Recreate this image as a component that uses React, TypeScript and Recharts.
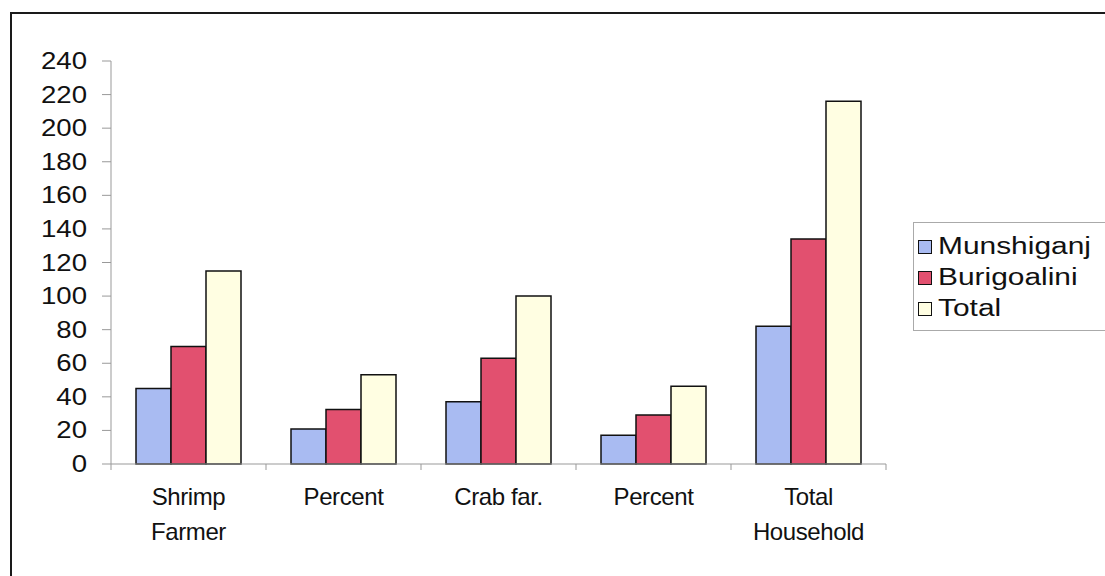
import React from "react";
import { BarChart, Bar, XAxis, YAxis } from "recharts";

const categories = ["Shrimp\nFarmer", "Percent", "Crab far.", "Percent", "Total\nHousehold"];
const munshiganj = [45, 20.8, 37, 17.1, 82];
const burigoalini = [70, 32.4, 63, 29.2, 134];
const total = [115, 53.2, 100, 46.3, 216];
const yTicks = [0, 20, 40, 60, 80, 100, 120, 140, 160, 180, 200, 220, 240];
const boundaryTicks = [0, 1, 2, 3, 4, 5];

const seriesInfo = [
  { key: "munshiganj", name: "Munshiganj", color: "#a9bbf2" },
  { key: "burigoalini", name: "Burigoalini", color: "#e2506f" },
  { key: "total", name: "Total", color: "#fffee2" },
];

const data = categories.map((c, i) => ({
  name: c,
  munshiganj: munshiganj[i],
  burigoalini: burigoalini[i],
  total: total[i],
}));

const FONT = "'Liberation Sans', Arial, sans-serif";

const YTick = (props: any) => {
  const { x, y, payload } = props;
  return (
    <g transform={`translate(${x},${y})`}>
      <text
        x={0}
        y={0}
        dy={8}
        textAnchor="end"
        fontFamily={FONT}
        fontSize={23}
        fill="#111"
        transform="scale(1.2,1)"
      >
        {payload.value}
      </text>
    </g>
  );
};

const XTick = (props: any) => {
  const { x, y, payload } = props;
  const lines = String(payload.value).split("\n");
  return (
    <g transform={`translate(${x},${y})`}>
      {lines.map((l: string, i: number) => (
        <text
          key={i}
          x={0}
          y={i * 35}
          dy={25}
          textAnchor="middle"
          fontFamily={FONT}
          fontSize={24}
          fill="#111"
          letterSpacing={-0.4}
        >
          {l}
        </text>
      ))}
    </g>
  );
};

const EmptyTick = () => <g />;

const LegendBox = () => (
  <div
    style={{
      position: "absolute",
      left: 913,
      top: 222,
      width: 200,
      height: 109,
      border: "1px solid #aaa",
      background: "#fff",
      padding: "8px 0 0 4px",
      boxSizing: "border-box",
      fontFamily: FONT,
      fontSize: 23,
      color: "#111",
    }}
  >
    {seriesInfo.map((s) => (
      <div key={s.key} style={{ display: "flex", alignItems: "center", height: 31 }}>
        <span
          style={{
            display: "inline-block",
            width: 12,
            height: 12,
            border: "1.5px solid #111",
            background: s.color,
            marginRight: 6,
            flex: "none",
          }}
        />
        <span style={{ display: "inline-block", transform: "scaleX(1.3)", transformOrigin: "left center", whiteSpace: "nowrap" }}>
          {s.name}
        </span>
      </div>
    ))}
  </div>
);

export default function App() {
  return (
    <div style={{ position: "absolute", left: 0, top: 0, width: 1105, height: 576, overflow: "hidden", background: "#fff" }}>
      <div
        style={{
          position: "absolute",
          left: 10,
          top: 12,
          width: 1095,
          height: 564,
          borderTop: "2px solid #1a1a1a",
          borderLeft: "2px solid #1a1a1a",
          boxSizing: "border-box",
        }}
      />
      <div style={{ position: "absolute", left: 0, top: 0 }}>
        <BarChart
          width={1105}
          height={576}
          data={data}
          margin={{ top: 61, right: 219, left: 0, bottom: 0 }}
          barCategoryGap={25}
          barGap={0}
        >
          <XAxis
            xAxisId="a"
            type="number"
            dataKey={() => 0}
            domain={[0, 5]}
            ticks={boundaryTicks}
            interval={0}
            tick={<EmptyTick />}
            tickLine={{ stroke: "#999" }}
            tickSize={6}
            axisLine={{ stroke: "#999" }}
            height={8}
            allowDataOverflow
          />
          <XAxis
            xAxisId="b"
            dataKey="name"
            tick={<XTick />}
            tickLine={false}
            axisLine={false}
            height={104}
            interval={0}
          />
          <YAxis
            width={111}
            domain={[0, 240]}
            ticks={yTicks}
            interval={0}
            tick={<YTick />}
            tickSize={9}
            tickLine={{ stroke: "#999" }}
            axisLine={{ stroke: "#999" }}
            tickMargin={15}
          />
          {seriesInfo.map((s) => (
            <Bar
              key={s.key}
              xAxisId="b"
              dataKey={s.key}
              name={s.name}
              fill={s.color}
              stroke="#111"
              strokeWidth={1.5}
              isAnimationActive={false}
            />
          ))}
        </BarChart>
      </div>
      <LegendBox />
    </div>
  );
}
